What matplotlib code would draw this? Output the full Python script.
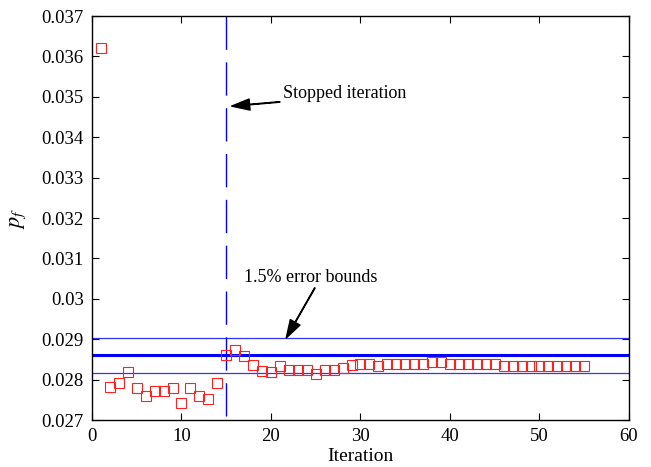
import matplotlib
matplotlib.use("Agg")
import matplotlib.pyplot as plt

# ---- data ----
iterations = list(range(1, 56))
pf_values = [
    0.03621, 0.02781, 0.02791, 0.02820, 0.02780, 0.02760, 0.02772, 0.02772, 0.02780, 0.02743,
    0.02780, 0.02760, 0.02751, 0.02792, 0.02860, 0.02873, 0.02859, 0.02836, 0.02821, 0.02820,
    0.02834, 0.02825, 0.02825, 0.02825, 0.02813, 0.02825, 0.02825, 0.02829, 0.02835, 0.02839,
    0.02839, 0.02833, 0.02839, 0.02839, 0.02839, 0.02839, 0.02839, 0.02844, 0.02844, 0.02839,
    0.02839, 0.02839, 0.02839, 0.02839, 0.02839, 0.02834, 0.02833, 0.02833, 0.02833, 0.02833,
    0.02833, 0.02833, 0.02833, 0.02833, 0.02833,
]
pf_converged = 0.0286
error_fraction = 0.015
stopped_iteration = 15

xticks = [0, 10, 20, 30, 40, 50, 60]
yticks = [0.027, 0.028, 0.029, 0.030, 0.031, 0.032, 0.033, 0.034, 0.035, 0.036, 0.037]
ytick_labels = ["0.027", "0.028", "0.029", "0.03", "0.031", "0.032", "0.033",
                "0.034", "0.035", "0.036", "0.037"]

plt.rcParams['font.family'] = ['Liberation Serif', 'DejaVu Serif']
plt.rcParams['mathtext.fontset'] = 'stix'

fig = plt.figure(figsize=(6.51, 4.67), dpi=100)
ax = fig.add_axes([0.1413, 0.1006, 0.9662 - 0.1413, 0.9657 - 0.1006])

ymin, ymax = yticks[0], yticks[-1]
upper = pf_converged * (1 + error_fraction)
lower = pf_converged * (1 - error_fraction)
ax.axhline(upper, color='#3333ff', lw=0.9, zorder=2)
ax.axhline(lower, color='#3333ff', lw=0.9, zorder=2)
ax.axhline(pf_converged, color='#0000ff', lw=2.2, zorder=2)
# stopped-iteration marker drawn from top to bottom (dash phase as in the reference)
ax.plot([stopped_iteration, stopped_iteration], [ymax, ymin], color='#0000ff',
        lw=1.0, dashes=(24, 9), zorder=2)

ax.plot(iterations, pf_values, linestyle='none', marker='s', markersize=7.8,
        markerfacecolor='none', markeredgecolor='#ff2020', markeredgewidth=0.8, zorder=3)

ax.annotate('Stopped iteration', xy=(15.6, 0.03477), xytext=(21.3, 0.03509),
            fontsize=13, va='center', ha='left',
            arrowprops=dict(facecolor='black', edgecolor='black', width=0.4,
                            headwidth=8, headlength=13, shrink=0.0))
ax.annotate('', xy=(21.7, 0.02903), xytext=(24.9, 0.03027),
            arrowprops=dict(facecolor='black', edgecolor='black', width=0.4,
                            headwidth=8, headlength=13, shrink=0.0))
ax.text(17.0, 0.03054, '1.5% error bounds', fontsize=13, va='center', ha='left')

ax.set_xlim(xticks[0], xticks[-1])
ax.set_ylim(ymin, ymax)
ax.set_xticks(xticks)
ax.set_xticklabels([str(t) for t in xticks])
ax.set_yticks(yticks)
ax.set_yticklabels(ytick_labels)
ax.tick_params(direction='in', length=5, width=0.8, top=True, right=True,
               labelsize=13.5, pad=6)
for s in ax.spines.values():
    s.set_linewidth(1.0)

ax.set_xlabel('Iteration', fontsize=14, labelpad=2)
ax.set_ylabel('$p_f$', fontsize=16, labelpad=10)

fig.savefig('out.png', dpi=100)
